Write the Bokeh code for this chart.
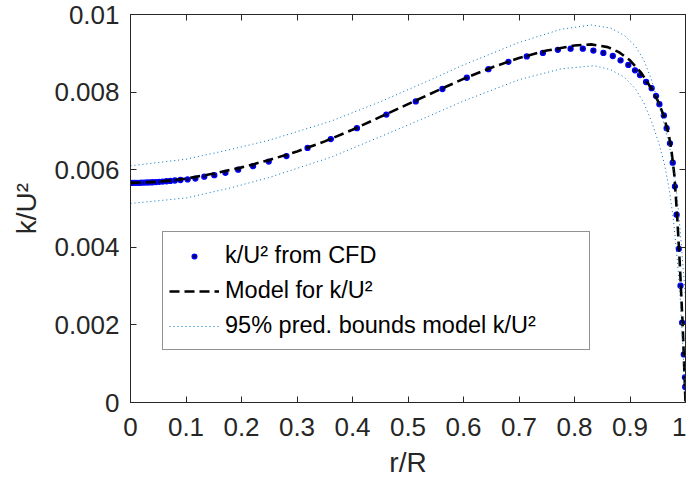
from bokeh.plotting import figure
from bokeh.models import FixedTicker, LinearAxis, Legend, LegendItem, Range1d
from bokeh.embed import file_html
from bokeh.resources import INLINE

# CFD data points
cfd_r = [0.000, 0.004, 0.008, 0.012, 0.016, 0.020, 0.025, 0.030, 0.035, 0.040,
         0.046, 0.052, 0.058, 0.065, 0.072, 0.080, 0.090, 0.103, 0.117, 0.133,
         0.151, 0.171, 0.194, 0.221, 0.249, 0.281, 0.319, 0.361, 0.408, 0.461,
         0.514, 0.562, 0.606, 0.645, 0.681, 0.714, 0.743, 0.770, 0.793, 0.815,
         0.834, 0.852, 0.869, 0.883, 0.897, 0.909, 0.918, 0.929, 0.939, 0.947,
         0.953, 0.961, 0.966, 0.972, 0.977, 0.981, 0.984, 0.988, 0.991, 0.994,
         0.997, 0.999, 0.9995]
cfd_k = [0.005660, 0.005660, 0.005661, 0.005662, 0.005663, 0.005665, 0.005667, 0.005670, 0.005673, 0.005677,
         0.005682, 0.005688, 0.005694, 0.005702, 0.005711, 0.005722, 0.005735, 0.00575, 0.00577, 0.00582,
         0.00586, 0.00592, 0.00600, 0.00609, 0.00621, 0.00635, 0.00656, 0.00679, 0.00707, 0.00742,
         0.00776, 0.00808, 0.00837, 0.00859, 0.00878, 0.00892, 0.00901, 0.00909, 0.00912, 0.00912,
         0.00907, 0.00901, 0.00893, 0.00882, 0.00870, 0.00856, 0.00844, 0.00826, 0.00810, 0.00790,
         0.00769, 0.00740, 0.00707, 0.00668, 0.00618, 0.00557, 0.00484, 0.00396, 0.00301, 0.00206,
         0.00124, 0.00065, 0.00040]

# Model curve
model_r = [0.0, 0.05, 0.1, 0.15, 0.2, 0.25, 0.3, 0.35, 0.4, 0.45, 0.5, 0.55, 0.6, 0.65,
           0.7, 0.75, 0.8, 0.83, 0.86, 0.88, 0.9, 0.92, 0.94, 0.95, 0.96, 0.97, 0.975,
           0.98, 0.985, 0.99, 0.995, 1.0]
model_k = [0.00566, 0.00569, 0.00577, 0.00590, 0.00606, 0.00625, 0.00647, 0.00673, 0.00703,
           0.00736, 0.00769, 0.00802, 0.00834, 0.00863, 0.00888, 0.00907, 0.00920, 0.00923,
           0.00916, 0.00903, 0.00882, 0.00850, 0.00806, 0.00778, 0.00742, 0.00690, 0.00645,
           0.00585, 0.00480, 0.00350, 0.00195, 0.0]

# 95% prediction bounds
upper_r = [0.0, 0.1, 0.18, 0.25, 0.361, 0.45, 0.541, 0.6, 0.7, 0.776, 0.83, 0.865, 0.89, 0.91,
           0.925, 0.938, 0.95, 0.962, 0.972, 0.98, 0.986, 0.992, 0.996, 1.0]
upper_k = [0.00610, 0.00627, 0.00652, 0.00676, 0.00725, 0.00775, 0.00832, 0.00870, 0.00928,
           0.00962, 0.00973, 0.00965, 0.00946, 0.00918, 0.00882, 0.00835, 0.00778, 0.00715,
           0.00652, 0.00590, 0.00515, 0.00415, 0.00340, 0.00270]
lower_r = [0.0, 0.1, 0.18, 0.25, 0.361, 0.45, 0.541, 0.6, 0.7, 0.776, 0.835, 0.865, 0.89,
           0.91, 0.925, 0.94, 0.952, 0.962, 0.97, 0.978, 0.985, 0.99, 0.995, 1.0]
lower_k = [0.00513, 0.00527, 0.00553, 0.00580, 0.00632, 0.00685, 0.00740, 0.00777, 0.00832,
           0.00860, 0.00868, 0.00858, 0.00838, 0.00808, 0.00772, 0.00720, 0.00668, 0.00615,
           0.00555, 0.00475, 0.00370, 0.00280, 0.00150, 0.0]

x_ticks = [0, 0.1, 0.2, 0.3, 0.4, 0.5, 0.6, 0.7, 0.8, 0.9, 1.0]
x_tick_labels = ["0", "0.1", "0.2", "0.3", "0.4", "0.5", "0.6", "0.7", "0.8", "0.9", "1"]
y_ticks = [0, 0.002, 0.004, 0.006, 0.008, 0.01]
y_tick_labels = ["0", "0.002", "0.004", "0.006", "0.008", "0.01"]

FONT = "Liberation Sans"
AX = "#262626"
TICK_FS = "26px"

p = figure(width=686, height=482, x_range=Range1d(0, 1), y_range=Range1d(0, 0.01),
           output_backend="svg", toolbar_location=None,
           min_border_left=130, min_border_right=1, min_border_top=14, min_border_bottom=80)
p.grid.visible = False
p.outline_line_color = AX
p.outline_line_width = 1
p.background_fill_color = "white"
p.border_fill_color = "white"

for ax, ticks, labels in ((p.xaxis[0], x_ticks, x_tick_labels), (p.yaxis[0], y_ticks, y_tick_labels)):
    ax.ticker = FixedTicker(ticks=ticks)
    ax.major_label_overrides = {t: l for t, l in zip(ticks, labels)}
    ax.major_label_text_font = FONT
    ax.major_label_text_font_size = TICK_FS
    ax.major_label_text_color = AX
    ax.major_tick_in = 6
    ax.major_tick_out = 0
    ax.minor_tick_line_color = None
    ax.axis_line_color = AX
    ax.major_tick_line_color = AX
    ax.axis_label_text_font = FONT
    ax.axis_label_text_font_size = "28px"
    ax.axis_label_text_font_style = "normal"
    ax.axis_label_text_color = AX

p.xaxis[0].axis_label = "r/R"
p.xaxis[0].major_label_standoff = 15
p.xaxis[0].axis_label_standoff = 8
p.yaxis[0].axis_label = "k/U²"
p.yaxis[0].major_label_standoff = 11
p.yaxis[0].axis_label_standoff = 9

for side, ticks in (("above", x_ticks), ("right", y_ticks)):
    ax = LinearAxis(ticker=FixedTicker(ticks=ticks), major_label_text_font_size="1px",
                    major_label_text_color=None,
                    major_tick_in=6, major_tick_out=0, major_label_standoff=0,
                    minor_tick_line_color=None, axis_line_color=AX, major_tick_line_color=AX)
    p.add_layout(ax, side)

pts = p.scatter(cfd_r, cfd_k, marker="circle", size=5, fill_color="#000070",
                line_color="#0000ff", line_width=1.3)
mdl = p.line(model_r, model_k, line_color="black", line_width=2.6, line_dash="10 5")
up = p.line(upper_r, upper_k, line_color="#0072BD", line_width=1.0, line_dash="1 3")
lo = p.line(lower_r, lower_k, line_color="#0072BD", line_width=1.0, line_dash="1 3")

legend = Legend(items=[
    LegendItem(label="k/U² from CFD", renderers=[pts]),
    LegendItem(label="Model for k/U²", renderers=[mdl]),
    LegendItem(label="95% pred. bounds model k/U²", renderers=[up]),
], location=(32, 52))
legend.label_text_font = FONT
legend.label_text_font_size = "23.5px"
legend.label_text_color = "black"
legend.glyph_width = 50
legend.glyph_height = 12
legend.label_height = 35
legend.label_width = 358
legend.label_standoff = 6
legend.spacing = 0
legend.padding = 6
legend.margin = 0
legend.border_line_color = AX
legend.border_line_width = 1
legend.background_fill_color = "white"
legend.background_fill_alpha = 1
p.add_layout(legend, "center")

open("out.html", "w").write(file_html(p, INLINE))
